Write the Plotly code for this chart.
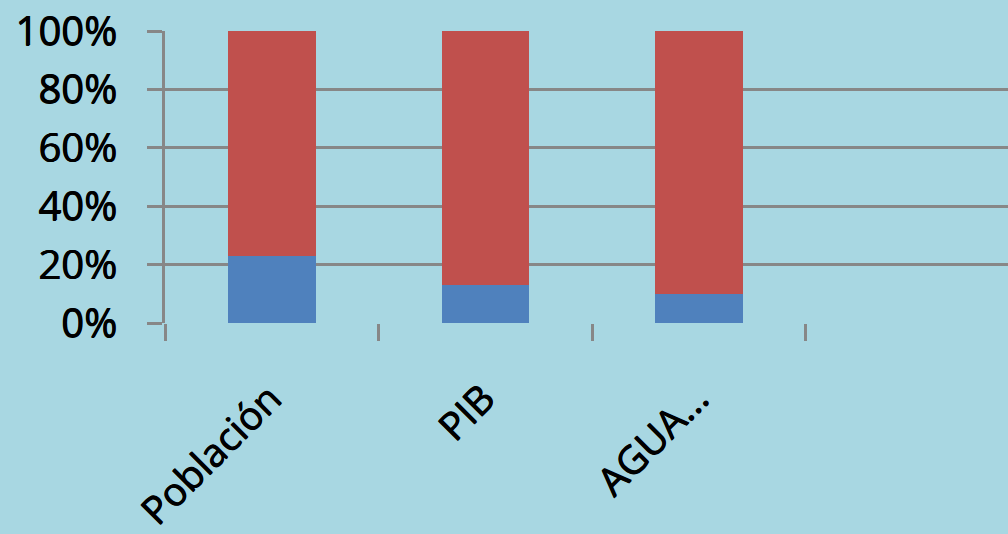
import plotly.graph_objects as go

categories = ["Población", "PIB", "AGUA..."]
serie_azul = [23, 13, 10]
serie_roja = [77, 87, 90]
y_ticks = [0, 20, 40, 60, 80, 100]
y_tick_labels = ["0%", "20%", "40%", "60%", "80%", "100%"]

BG = "#A8D7E2"
GRID = "#878787"
SHADOW = "0.8px 0px 0px #000, 0px 0.5px 0px #000"
pos = list(range(len(categories)))
n_slots = 4
boundaries = [i - 0.5 for i in range(n_slots + 1)]

fig = go.Figure()
fig.add_trace(go.Bar(x=pos, y=serie_azul, marker=dict(color="#4F81BD", line=dict(width=0)),
                     width=0.41, showlegend=False))
fig.add_trace(go.Bar(x=pos, y=serie_roja, marker=dict(color="#C0504D", line=dict(width=0)),
                     width=0.41, showlegend=False))

xr = [-0.5, 3.448]
fig.update_layout(
    width=1008, height=534,
    margin=dict(l=165, r=0, t=31, b=211),
    paper_bgcolor=BG, plot_bgcolor=BG,
    barmode="stack", bargap=0,
    font=dict(family="Open Sans", color="black", size=39),
    xaxis=dict(range=xr, tickmode="array", tickvals=boundaries, ticktext=[""] * len(boundaries),
               ticks="outside", ticklen=17, tickwidth=3, tickcolor=GRID,
               showgrid=False, zeroline=False, showline=False),
    xaxis2=dict(range=xr, overlaying="x", side="bottom", tickmode="array", tickvals=pos,
                ticktext=categories, ticks="", tickangle=-45, showgrid=False,
                zeroline=False, showline=False, ticklabelstandoff=44, ticklabelshift=-2,
                tickfont=dict(size=39, shadow=SHADOW)),
    yaxis=dict(range=[0, 100], tickmode="array", tickvals=y_ticks, ticktext=y_tick_labels,
               ticks="outside", ticklen=15, tickwidth=3, tickcolor=GRID,
               showgrid=True, gridcolor=GRID, gridwidth=3,
               zeroline=False, showline=True, linecolor=GRID, linewidth=3,
               ticklabelstandoff=22, tickfont=dict(size=40, shadow=SHADOW)),
)
# dummy invisible trace to activate xaxis2
fig.add_trace(go.Scatter(x=pos, y=[None] * len(pos), xaxis="x2", showlegend=False,
                         hoverinfo="skip"))
fig.write_html("out.html")
